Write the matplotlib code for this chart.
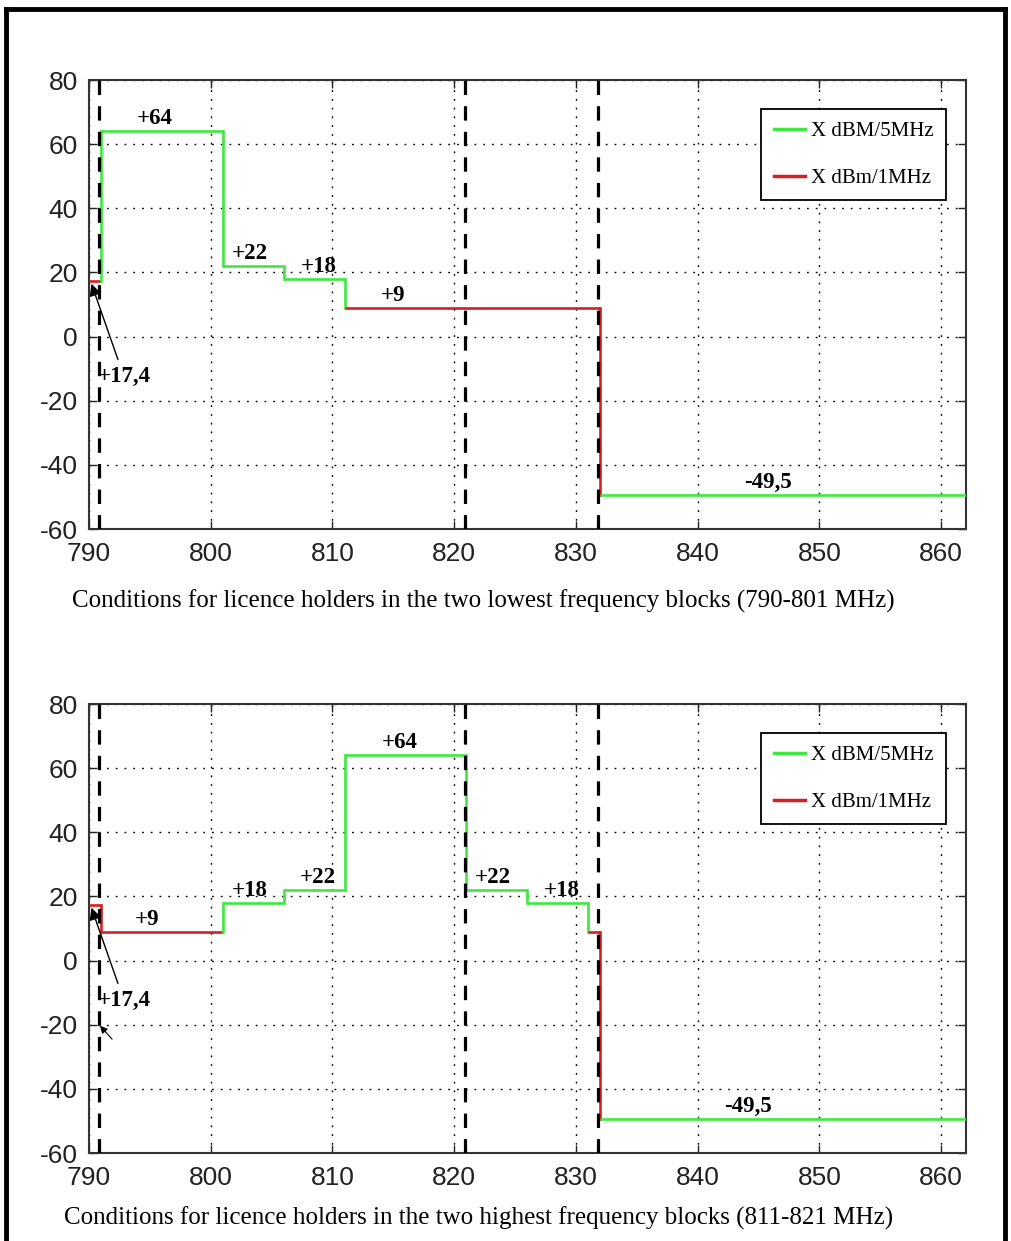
import matplotlib.pyplot as plt
from matplotlib.lines import Line2D

plt.rcParams['axes.unicode_minus'] = False

# step edges (MHz), levels (dBm) and which limit each step belongs to
low_edges = [790, 791, 801, 806, 811, 832, 862]
low_levels = [17.4, 64, 22, 18, 9, -49.5]
low_kind = ['1MHz', '5MHz', '5MHz', '5MHz', '1MHz', '5MHz']
low_labels = ['', '+64', '+22', '+18', '+9', '-49,5']

high_edges = [790, 791, 801, 806, 811, 821, 826, 831, 832, 862]
high_levels = [17.4, 9, 18, 22, 64, 22, 18, 9, -49.5]
high_kind = ['1MHz', '1MHz', '5MHz', '5MHz', '5MHz', '5MHz', '5MHz', '1MHz', '5MHz']
high_labels = ['', '+9', '+18', '+22', '+64', '+22', '+18', '', '-49,5']

block_marks = [791, 821, 832]
xticks = [790, 800, 810, 820, 830, 840, 850, 860]
yticks = [-60, -40, -20, 0, 20, 40, 60, 80]

captions = ['Conditions for licence holders in the two lowest frequency blocks (790-801 MHz)',
            'Conditions for licence holders in the two highest frequency blocks (811-821 MHz)']

colors = {'5MHz': '#3ee83e', '1MHz': '#d92020'}
legend_names = {'5MHz': 'X dBM/5MHz', '1MHz': 'X dBm/1MHz'}

SERIF = ['Liberation Serif', 'DejaVu Serif']
TICKFONT = ['Liberation Sans Narrow', 'Liberation Sans', 'DejaVu Sans']


def draw_panel(ax, edges, levels, kind, labels, label_dx):
    n = len(levels)
    for i in range(n):
        x0, x1, y = edges[i], edges[i + 1], levels[i]
        c = colors[kind[i]]
        ax.plot([x0, x1], [y, y], color=c, lw=1.9, solid_capstyle='butt', zorder=4)
        # vertical risers take the colour of the higher step
        if i > 0 and levels[i - 1] < y:
            ax.plot([x0, x0], [levels[i - 1], y], color=c, lw=1.9, zorder=4)
        if i < n - 1 and levels[i + 1] < y:
            ax.plot([x1, x1], [levels[i + 1], y], color=c, lw=1.9, zorder=4)
        if labels[i]:
            ax.text((x0 + x1) / 2 + label_dx[i], y + 0.6, labels[i], ha='center', va='bottom',
                    family=SERIF, fontweight='bold', fontsize=16.5, zorder=6)

    for xm in block_marks:
        ax.axvline(xm - 0.15, color='black', lw=2.3, ls=(0, (4.5, 3.5)), zorder=5)

    ax.annotate('+17,4', xy=(790.2, 16.5), xytext=(790.7, -12.5),
                family=SERIF, fontweight='bold', fontsize=16.5, ha='left', va='center',
                arrowprops=dict(arrowstyle='-|>', color='black', lw=1.0,
                                mutation_scale=18, shrinkA=3, shrinkB=0), zorder=7)

    ax.set_xlim(790, 862)
    ax.set_ylim(-60, 80)
    ax.set_xticks(xticks)
    ax.set_yticks(yticks)
    ax.grid(True, color='black', ls=(0, (1.3, 5)), lw=1.0)
    ax.tick_params(direction='in', top=True, right=True, length=6, width=1,
                   labelsize=19, colors='#222222')
    ax.tick_params(axis='x', pad=9)
    ax.tick_params(axis='y', pad=8)
    for lab in ax.get_xticklabels() + ax.get_yticklabels():
        lab.set_family(TICKFONT)
    for s in ax.spines.values():
        s.set_linewidth(1.5)
        s.set_color('#333333')

    handles = [Line2D([], [], color=colors[k], lw=2.5) for k in ['5MHz', '1MHz']]
    leg = ax.legend(handles, [legend_names[k] for k in ['5MHz', '1MHz']],
                    loc='upper right', bbox_to_anchor=(0.978, 0.935),
                    prop={'family': SERIF, 'size': 15}, frameon=True, fancybox=False,
                    edgecolor='black', framealpha=1, handlelength=1.5, labelspacing=1.3,
                    borderpad=0.6, handletextpad=0.3, borderaxespad=0)
    leg.get_frame().set_linewidth(1.3)


fig = plt.figure(figsize=(10.11, 12.41), dpi=100)

ax1 = fig.add_axes([0.088, 0.5737, 0.867, 0.3618])
ax2 = fig.add_axes([0.088, 0.0709, 0.867, 0.3618])

draw_panel(ax1, low_edges, low_levels, low_kind, low_labels,
           [0, -0.6, -0.3, 0.4, -6.5, -1.2])
draw_panel(ax2, high_edges, high_levels, high_kind, high_labels,
           [0, -1.2, -0.3, 0.3, -0.5, -0.3, 0.3, 0, -2.9])

# stray arrowhead left over in the lower panel of the original
ax2.annotate('', xy=(790.9, -20.3), xytext=(791.9, -24.5),
             arrowprops=dict(arrowstyle='-|>', color='black', lw=0.8,
                             mutation_scale=11, shrinkA=0, shrinkB=0), zorder=7)

fig.text(0.478, 0.5155, captions[0], ha='center', va='center', family=SERIF, fontsize=18)
fig.text(0.473, 0.0185, captions[1], ha='center', va='center', family=SERIF, fontsize=18)

# outer frame of the original figure
for xs, ys in [([0.006, 0.994], [0.9925, 0.9925]),
               ([0.006, 0.006], [0.9925, -0.01]),
               ([0.994, 0.994], [0.9925, -0.01])]:
    fig.add_artist(Line2D(xs, ys, transform=fig.transFigure, color='black', lw=3.5))

fig.savefig('out.png', dpi=100)
